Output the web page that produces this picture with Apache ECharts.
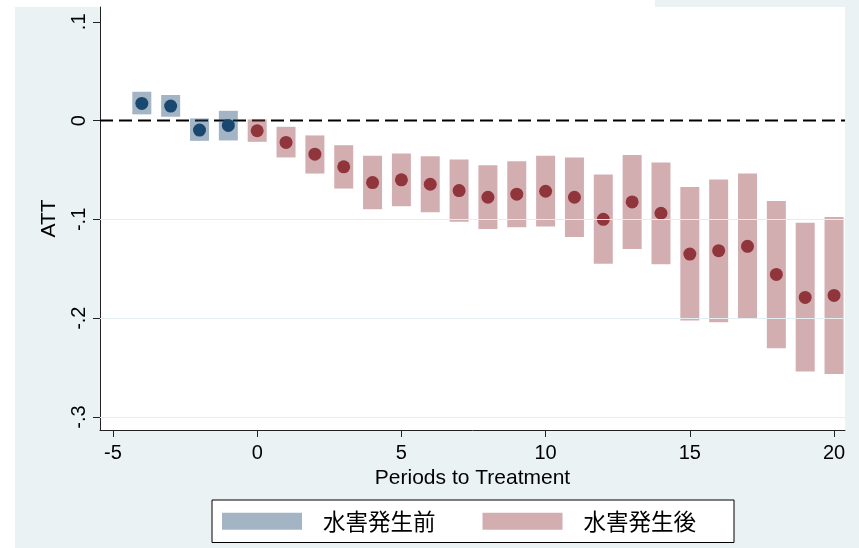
<!DOCTYPE html>
<html>
<head>
<meta charset="utf-8">
<style>
  html, body { margin: 0; padding: 0; background: #fff; }
  #chart { width: 859px; height: 548px; }
</style>
<script src="https://cdn.jsdelivr.net/npm/echarts@6/dist/echarts.min.js"></script>
</head>
<body>
<div id="chart"></div>
<script>
// Event-study estimates: periods relative to the flood, point estimate and 95% CI
const periods = [-4, -3, -2, -1, 0, 1, 2, 3, 4, 5, 6, 7, 8, 9, 10, 11, 12, 13, 14, 15, 16, 17, 18, 19, 20];
const att = [0.0174, 0.0147, -0.0096, -0.0049, -0.0103, -0.0221, -0.0340, -0.0468, -0.0627, -0.0600,
  -0.0644, -0.0708, -0.0776, -0.0745, -0.0715, -0.0776, -0.0999, -0.0823, -0.0938, -0.1351,
  -0.1317, -0.1273, -0.1557, -0.1790, -0.1770];
const ciHigh = [0.0292, 0.0259, 0.0022, 0.0099, 0.0012, -0.0063, -0.0150, -0.0249, -0.0357, -0.0333,
  -0.0360, -0.0394, -0.0451, -0.0411, -0.0357, -0.0373, -0.0546, -0.0347, -0.0424, -0.0671,
  -0.0597, -0.0536, -0.0813, -0.1033, -0.0975];
const ciLow = [0.0063, 0.0039, -0.0205, -0.0201, -0.0215, -0.0373, -0.0536, -0.0688, -0.0898, -0.0867,
  -0.0928, -0.1023, -0.1097, -0.1080, -0.1073, -0.1178, -0.1448, -0.1300, -0.1455, -0.2023,
  -0.2040, -0.2006, -0.2304, -0.2540, -0.2564];

const xTicks = [-5, 0, 5, 10, 15, 20];
const yTicks = [-0.3, -0.2, -0.1, 0, 0.1];
const gridValues = [-0.3, -0.2, -0.1];
const xRange = [-5.45, 20.38];
const yRange = [-0.3132, 0.115];

const preName = '水害発生前';
const postName = '水害発生後';

const navy = '#1a476f';
const maroon = '#90353b';
const navyBand = 'rgba(26,71,111,0.4)';
const maroonBand = 'rgba(144,53,59,0.4)';

function rows(pre) {
  const out = [];
  periods.forEach((p, i) => {
    if ((p < 0) === pre) out.push([p, ciLow[i], ciHigh[i], att[i]]);
  });
  return out;
}
const preRows = rows(true);
const postRows = rows(false);

function bandSeries(name, data, fill) {
  return {
    name: name,
    type: 'custom',
    z: 3,
    itemStyle: { color: fill },
    encode: { x: 0, y: [1, 2] },
    data: data,
    renderItem: function (params, api) {
      const x = api.value(0);
      const top = api.coord([x, api.value(2)]);
      const bot = api.coord([x, api.value(1)]);
      const w = 19;
      return {
        type: 'rect',
        shape: { x: top[0] - w / 2, y: top[1], width: w, height: bot[1] - top[1] },
        style: { fill: fill }
      };
    }
  };
}

function dotSeries(name, data, color) {
  return {
    name: name,
    type: 'scatter',
    z: 4,
    symbol: 'circle',
    symbolSize: 13,
    itemStyle: { color: color, opacity: 1 },
    data: data.map(r => [r[0], r[3]])
  };
}

const labelFont = { fontFamily: 'Liberation Sans, Arial, sans-serif', fontSize: 20, color: '#000' };
const nameFont = { fontFamily: 'Liberation Sans, Arial, sans-serif', fontSize: 21, color: '#000' };

const chart = echarts.init(document.getElementById('chart'), null, { renderer: 'canvas' });
chart.setOption({
  backgroundColor: '#fff',
  animation: false,
  graphic: [
    { type: 'rect', z: -10, silent: true, shape: { x: 15, y: 7, width: 844, height: 541 }, style: { fill: '#eaf2f3' } },
    { type: 'rect', z: -10, silent: true, shape: { x: 655, y: 0, width: 204, height: 8 }, style: { fill: '#eaf2f3' } }
  ],
  grid: {
    left: 100, right: 14, top: 7, bottom: 118,
    show: true, backgroundColor: '#fff', borderWidth: 0
  },
  legend: {
    left: 212, top: 500,
    orient: 'horizontal',
    padding: [10, 38, 10, 10],
    backgroundColor: '#fff',
    borderColor: '#000',
    borderWidth: 1,
    borderRadius: 0,
    itemWidth: 80,
    itemHeight: 17,
    itemGap: 47,
    selectedMode: false,
    textStyle: {
      fontFamily: 'Noto Sans CJK JP',
      fontSize: 22.5,
      lineHeight: 19,
      color: '#000',
      padding: [0, 0, 0, 16]
    },
    data: [
      { name: preName, icon: 'rect', itemStyle: { color: navyBand } },
      { name: postName, icon: 'rect', itemStyle: { color: maroonBand } }
    ]
  },
  xAxis: {
    type: 'value',
    min: xRange[0], max: xRange[1],
    name: 'Periods to Treatment',
    nameLocation: 'middle',
    nameGap: 36,
    nameTextStyle: nameFont,
    axisLine: { show: true, onZero: false, lineStyle: { color: '#222', width: 1 } },
    axisTick: { show: true, length: 7, customValues: xTicks, lineStyle: { color: '#222' } },
    axisLabel: { customValues: xTicks, margin: 13, ...labelFont, formatter: v => String(v) },
    splitLine: { show: false }
  },
  yAxis: {
    type: 'value',
    min: yRange[0], max: yRange[1],
    name: 'ATT',
    nameLocation: 'middle',
    nameGap: 40,
    nameRotate: 90,
    nameTextStyle: nameFont,
    axisLine: { show: true, onZero: false, lineStyle: { color: '#222', width: 1 } },
    axisTick: { show: true, length: 7, customValues: yTicks, lineStyle: { color: '#222' } },
    axisLabel: {
      customValues: yTicks, margin: 11, rotate: 90, ...labelFont,
      formatter: v => (Math.abs(v) < 1e-9 ? '0' : v.toFixed(1).replace('0.', '.'))
    },
    splitLine: { show: false }
  },
  series: [
    {
      name: 'grid',
      type: 'line',
      data: [],
      silent: true,
      z: 1,
      markLine: {
        silent: true,
        symbol: 'none',
        label: { show: false },
        lineStyle: { color: '#e4eef0', width: 1, type: 'solid' },
        data: gridValues.map(v => ({ yAxis: v }))
      }
    },
    {
      name: 'zero',
      type: 'line',
      z: 2,
      symbol: 'none',
      silent: true,
      lineStyle: { color: '#000', width: 2, type: [13, 6] },
      data: [[xRange[0], 0], [xRange[1], 0]]
    },
    bandSeries(preName, preRows, navyBand),
    bandSeries(postName, postRows, maroonBand),
    dotSeries('pre-dot', preRows, navy),
    dotSeries('post-dot', postRows, maroon)
  ]
});
</script>
</body>
</html>
